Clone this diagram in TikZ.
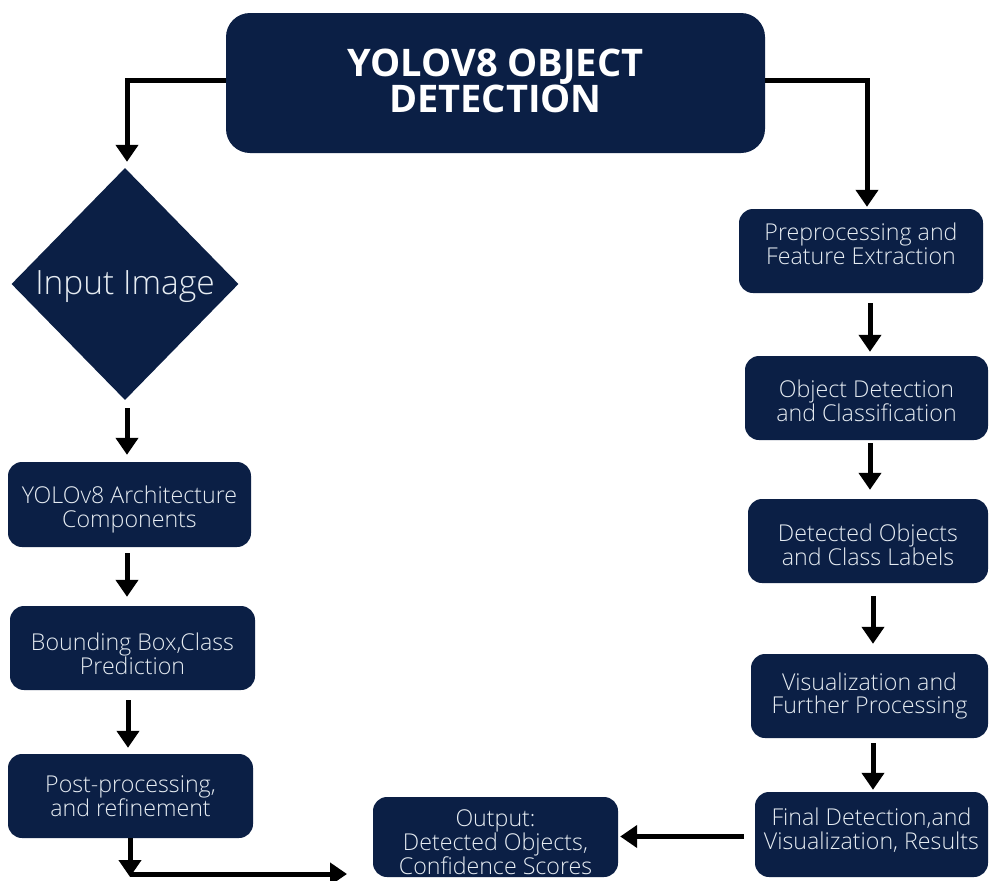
\documentclass[tikz,border=0pt]{standalone}
\usepackage{fontspec}
\setmainfont{Open Sans}
\IfFontExistsTF{Open Sans Light}{\newfontfamily\lightfont{Open Sans Light}}{\newfontfamily\lightfont{Open Sans}}
\usetikzlibrary{arrows.meta,shapes.geometric}
\definecolor{navy}{HTML}{0B1F45}
\definecolor{txt}{HTML}{E6ECF2}
\newcommand{\shifttext}[3]{\raisebox{#1}[\height][\depth]{\parbox{#2}{\centering #3}}}
\begin{document}
\begin{tikzpicture}[x=1pt,y=-1pt,
  box/.style={fill=navy, rounded corners=14pt, text=txt, align=center,
    font=\lightfont\fontsize{23.2}{23.8}\selectfont, inner sep=0pt},
  arr/.style={line width=5pt, -{Triangle[width=22pt,length=17pt]}},
  ln/.style={line width=5pt}]
\useasboundingbox (0,0) rectangle (989,881);
\fill[white] (0,0) rectangle (989,881);

\node[box, rounded corners=24pt, minimum width=539pt, minimum height=140pt,
  text=white, font=\bfseries\fontsize{38}{35}\selectfont] (title) at (495.5,83)
  {\raisebox{2pt}[\height][\depth]{\parbox{500pt}{\centering YOLOV8 OBJECT\\DETECTION}}};

\node[diamond, fill=navy, text=txt, inner sep=0pt, minimum width=227pt,
  minimum height=232pt, font=\lightfont\fontsize{33.5}{34}\selectfont] (inp) at (125,284)
  {\raisebox{-3pt}[\height][\depth]{\makebox[0pt]{Input Image}}};

\node[box, minimum width=243pt, minimum height=85pt] (arch) at (129.5,504.5)
  {\shifttext{-5pt}{240pt}{YOLOv8 Architecture\\Components}};
\node[box, minimum width=245pt, minimum height=84pt] (bbox) at (132.5,648)
  {\shifttext{-6pt}{240pt}{Bounding Box,Class\\Prediction}};
\node[box, minimum width=245pt, minimum height=84pt] (post) at (130.5,796)
  {\shifttext{0pt}{240pt}{Post-processing,\\and refinement}};
\node[box, minimum width=245pt, minimum height=80pt] (out) at (495.5,837)
  {\shifttext{-5pt}{240pt}{Output:\\Detected Objects,\\Confidence Scores}};

\node[box, minimum width=244pt, minimum height=84pt] (pre) at (861,251)
  {\shifttext{7pt}{240pt}{Preprocessing and\\Feature Extraction}};
\node[box, minimum width=243pt, minimum height=84pt] (obj) at (866.5,398)
  {\shifttext{-3pt}{240pt}{Object Detection\\and Classification}};
\node[box, minimum width=240pt, minimum height=84pt] (det) at (868,541)
  {\shifttext{-4pt}{238pt}{Detected Objects\\and Class Labels}};
\node[box, minimum width=237pt, minimum height=84pt] (vis) at (869.5,696)
  {\shifttext{0pt}{236pt}{Visualization and\\Further Processing}};
\node[box, minimum width=233pt, minimum height=85pt] (fin) at (871.5,834.5)
  {\shifttext{4pt}{232pt}{Final Detection,and\\Visualization, Results}};

% top connectors
\draw[arr, shorten >=6pt] ([yshift=3pt]title.west) -| ([xshift=2pt]inp.north);
\draw[arr, shorten >=2pt] ([yshift=3pt]title.east) -| ([xshift=6pt]pre.north);

% left column
\draw[arr, shorten <=8pt, shorten >=7pt] ([xshift=2pt]inp.south) -- ([xshift=2pt]inp.south |- arch.north);
\draw[arr, shorten <=6pt, shorten >=9pt] ([xshift=-2.5pt]arch.south) -- ([xshift=-2.5pt]arch.south |- bbox.north);
\draw[arr, shorten <=10pt, shorten >=6pt] ([xshift=-4.5pt]bbox.south) -- ([xshift=-4.5pt]bbox.south |- post.north);

\coordinate (pp) at (130,874);
\coordinate (pend) at (347,874);
\draw[arr] (post.south -| pp) -- ([yshift=-3pt]pp);
\draw[arr] (pp) -- (pend);

% right column
\draw[arr, shorten <=10pt, shorten >=4pt] ([xshift=9pt]pre.south) -- ([xshift=9pt]pre.south |- obj.north);
\draw[arr, shorten <=3pt, shorten >=9pt] ([xshift=3.5pt]obj.south) -- ([xshift=3.5pt]obj.south |- det.north);
\draw[arr, shorten <=13pt, shorten >=10pt] ([xshift=5pt]det.south) -- ([xshift=5pt]det.south |- vis.north);
\draw[arr, shorten <=5pt, shorten >=2pt] ([xshift=3.5pt]vis.south) -- ([xshift=3.5pt]vis.south |- fin.north);
\draw[arr, shorten <=11pt, shorten >=2pt] ([yshift=-2pt]fin.west) -- ([yshift=-2pt]fin.west -| out.east);
\end{tikzpicture}
\end{document}
